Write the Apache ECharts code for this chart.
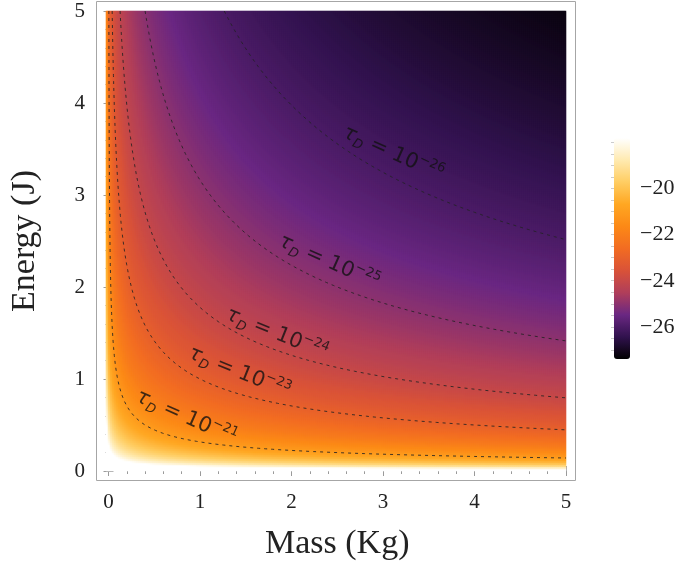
<!DOCTYPE html>
<html>
<head>
<meta charset="utf-8">
<script src="https://cdn.jsdelivr.net/npm/echarts@6/dist/echarts.min.js"></script>
<style>
  html, body { margin: 0; padding: 0; background: #fff; }
  #chart { width: 685px; height: 571px; }
</style>
</head>
<body>
<div id="chart"></div>
<script>
// tick labels
const massTicks = [0, 1, 2, 3, 4, 5];
const energyTicks = [0, 1, 2, 3, 4, 5];
const colorbarLabels = [-26, -24, -22, -20];
const colorbarTicks = [-27, -26.5, -26, -25.5, -25, -24.5, -24, -23.5, -23, -22.5,
  -22, -21.5, -21, -20.5, -20, -19.5, -19, -18.5, -18];

// dashed contours, log10(tau_D)
const contourLevels = [-26, -25, -24, -23, -21];
// where each contour label sits [mass, energy] and its tilt
const labelAnchors = [[3.11, 3.45], [2.41, 2.27], [1.84, 1.49], [1.43, 1.07], [0.85, 0.58]];
const labelAngles = [-24, -24, -22, -22, -24];

const logTauUnit = -23;
const massPower = 2;
const energyPower = 4;

// colour scale range (colorbar ends)
const colorMin = -27.4;
const colorMax = -17.8;

// sampling grid for the density: 230 cells -> 2 px each
const CELLS = 230;
const massCells = [];
const energyCells = [];
for (let i = 0; i < CELLS; i++) {
  massCells.push(+((i + 0.5) * 5 / CELLS).toFixed(4));
  energyCells.push(+((i + 0.5) * 5 / CELLS).toFixed(4));
}

function logTau(m, e) {
  return logTauUnit - massPower * Math.log10(m) - energyPower * Math.log10(e);
}
function energyOn(level, m) {
  return Math.pow(10, (logTauUnit - level - massPower * Math.log10(m)) / energyPower);
}

const heatData = [];
massCells.forEach((m, i) => {
  energyCells.forEach((e, j) => {
    heatData.push([i, j, +logTau(m, e).toFixed(3)]);
  });
});

const contourSeries = contourLevels.map((level) => {
  const mStart = Math.pow(10, (logTauUnit - level - energyPower * Math.log10(5)) / massPower);
  const pts = [];
  const n = 160;
  for (let k = 0; k <= n; k++) {
    const m = mStart * Math.pow(5 / mStart, k / n);
    pts.push([m, energyOn(level, m)]);
  }
  return {
    type: "line",
    xAxisIndex: 0,
    yAxisIndex: 0,
    data: pts,
    showSymbol: false,
    silent: true,
    lineStyle: { color: "rgba(35,35,35,0.85)", width: 1, type: [3, 4] },
    z: 3,
  };
});

const serif = "Liberation Serif";
const labelFont = "DejaVu Sans";
const ink = "#121212";

const labelSeries = {
  type: "scatter",
  xAxisIndex: 0,
  yAxisIndex: 0,
  symbolSize: 0,
  silent: true,
  z: 4,
  data: contourLevels.map((level, i) => ({
    value: labelAnchors[i],
    label: {
      show: true,
      position: "inside",
      rotate: labelAngles[i],
      formatter: "{t|τ}{s|D}{n| = 10}{p|−" + Math.abs(level) + "}",
      rich: {
        t: { fontFamily: labelFont, fontStyle: "italic", fontSize: 21, color: ink, lineHeight: 26 },
        s: { fontFamily: labelFont, fontStyle: "italic", fontSize: 13, color: ink, verticalAlign: "bottom" },
        n: { fontFamily: labelFont, fontSize: 21, color: ink },
        p: { fontFamily: labelFont, fontSize: 13, color: ink, verticalAlign: "top" },
      },
    },
  })),
};

// plot area (data range 0..5) and frame padding
const L = 106, T = 11, W = 460, H = 460, pad = 9.5;

const tickStyle = { color: "#9a9a9a", width: 1 };
function frameAxis(extra) {
  return Object.assign({
    gridIndex: 0,
    type: "value",
    min: 0,
    max: 5,
    interval: 1,
    offset: pad,
    axisLine: { show: false },
    axisTick: { show: true, inside: true, length: 5, lineStyle: tickStyle },
    minorTick: { show: true, splitNumber: 5, length: 3, lineStyle: tickStyle },
    splitLine: { show: false },
    axisLabel: { show: false },
  }, extra);
}

const chart = echarts.init(document.getElementById("chart"));
chart.setOption({
  animation: false,
  backgroundColor: "#ffffff",
  grid: [
    { left: L, top: T, width: W, height: H },
    { left: L, top: T, width: W, height: H },
    { left: 614, top: 138, width: 16, height: 221 },
  ],
  xAxis: [
    frameAxis({
      position: "bottom",
      axisLabel: {
        show: true, fontFamily: serif, fontSize: 21, color: "#222", margin: 11,
        formatter: (v) => (massTicks.includes(v) ? String(v) : ""),
      },
      name: "Mass (Kg)",
      nameLocation: "middle",
      nameGap: 47,
      nameTextStyle: { fontFamily: serif, fontSize: 34, color: "#222" },
    }),
    frameAxis({ position: "top" }),
    { gridIndex: 1, type: "category", data: massCells, show: false },
    { gridIndex: 2, type: "value", show: false, min: 0, max: 1 },
  ],
  yAxis: [
    frameAxis({
      position: "left",
      axisLabel: {
        show: true, fontFamily: serif, fontSize: 21, color: "#222", margin: 14,
        formatter: (v) => (energyTicks.includes(v) ? String(v) : ""),
      },
      name: "Energy (J)",
      nameLocation: "middle",
      nameGap: 57,
      nameTextStyle: { fontFamily: serif, fontSize: 34, color: "#222" },
    }),
    frameAxis({ position: "right" }),
    { gridIndex: 1, type: "category", data: energyCells, show: false },
    {
      gridIndex: 2,
      type: "value",
      position: "right",
      min: colorMin,
      max: colorMax,
      z: 10,
      axisLine: { show: false },
      splitLine: { show: false },
      axisTick: {
        show: true, inside: true, length: 3,
        customValues: colorbarTicks,
        lineStyle: { color: "rgba(170,170,170,0.6)" },
      },
      axisLabel: {
        show: true, margin: 10, fontFamily: serif, fontSize: 22, color: "#222",
        customValues: colorbarLabels,
        formatter: (v) => "−" + Math.abs(v),
      },
    },
  ],
  visualMap: {
    type: "continuous",
    seriesIndex: 0,
    dimension: 2,
    min: colorMin,
    max: colorMax,
    orient: "vertical",
    left: 614,
    top: 138,
    itemWidth: 16,
    itemHeight: 221,
    padding: 0,
    calculable: false,
    hoverLink: false,
    text: null,
    inRange: {
      color: ["#000000", "#31124e", "#6a2782", "#b03e5a", "#d95238", "#f26c22",
        "#fc8916", "#ffa722", "#ffcd62", "#ffeab0", "#ffffff"],
    },
    outOfRange: { color: "#ffffff" },
  },
  graphic: [
    {
      type: "rect",
      silent: true,
      z: 20,
      shape: { x: L - pad, y: T - pad, width: W + 2 * pad, height: H + 2 * pad },
      style: { fill: "none", stroke: "#a6a6a6", lineWidth: 1 },
    },
  ],
  series: [
    {
      type: "heatmap",
      xAxisIndex: 2,
      yAxisIndex: 2,
      data: heatData,
      progressive: 0,
      silent: true,
      emphasis: { disabled: true },
    },
    ...contourSeries,
    labelSeries,
  ],
});
</script>
</body>
</html>
